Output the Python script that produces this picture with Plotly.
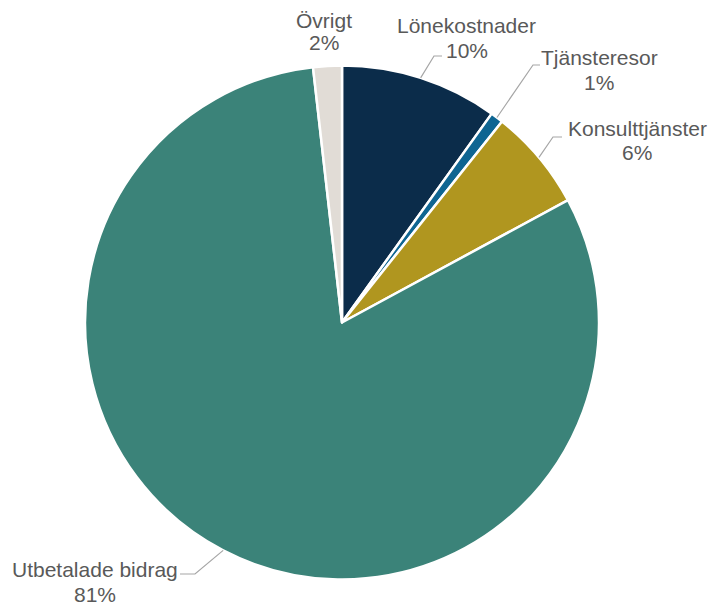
import math
import plotly.graph_objects as go

# ---- data ----
categories = ["Lönekostnader", "Tjänsteresor", "Konsulttjänster", "Utbetalade bidrag", "Övrigt"]
values = [9.9, 0.8, 6.4, 81.1, 1.8]
colors = ["#0B2C4A", "#0E6592", "#B0961F", "#3B8379", "#E1DCD6"]

# ---- layout / style (pixels) ----
W, H = 708, 605
CX, CY, R = 342, 322.5, 257
# label: x center, y center of line 1, y center of line 2
label_pos = [(467, 25.5, 50.5), (599, 57.5, 82.5), (637, 128.5, 152.5),
             (95, 569, 594), (324, 20, 43)]
# leader line elbow and end points (None = no leader)
leaders = [((434, 56), (442, 56)), ((533, 65), (540, 65)), ((553, 137), (562, 137)),
           ((195, 574), (180, 574)), None]

def px(x):
    return x / W

def py(y):
    return 1 - y / H

total = sum(values)
fig = go.Figure(go.Pie(
    labels=categories, values=values, sort=False, direction="clockwise", rotation=0,
    marker=dict(colors=colors, line=dict(color="white", width=2.5)),
    textinfo="none", hoverinfo="label+percent", showlegend=False,
    domain=dict(x=[px(CX - R), px(CX + R)], y=[py(CY + R), py(CY - R)]),
))

font = dict(family="Liberation Sans, Arial", size=21, color="#595959")
annotations = []
shapes = []
cum = 0
for cat, v, lp, ld in zip(categories, values, label_pos, leaders):
    mid = (cum + v / 2) / total * 2 * math.pi
    cum += v
    ex, ey = CX + R * math.sin(mid), CY - R * math.cos(mid)
    pct = round(v / total * 100)
    for txt, yy in ((cat, lp[1]), (f"{pct}%", lp[2])):
        annotations.append(dict(
            x=px(lp[0]), y=py(yy), xref="paper", yref="paper", showarrow=False,
            text=txt, xanchor="center", yanchor="middle", font=font,
        ))
    if ld:
        (bx, by), (tx, ty) = ld
        shapes.append(dict(
            type="path", xref="paper", yref="paper",
            path=f"M {px(ex)},{py(ey)} L {px(bx)},{py(by)} L {px(tx)},{py(ty)}",
            line=dict(color="#A6A6A6", width=1.2),
        ))

fig.update_layout(
    width=W, height=H, margin=dict(l=0, r=0, t=0, b=0),
    paper_bgcolor="white", plot_bgcolor="white",
    annotations=annotations, shapes=shapes,
)
fig.write_html("out.html")
